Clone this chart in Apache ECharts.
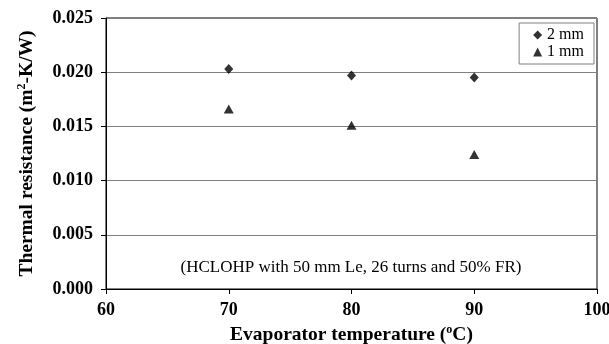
<!DOCTYPE html>
<html>
<head>
<meta charset="utf-8">
<script src="https://cdn.jsdelivr.net/npm/echarts@6/dist/echarts.min.js"></script>
<style>
html, body { margin: 0; padding: 0; background: #fff; }
#chart { width: 609px; height: 344px; }
</style>
</head>
<body>
<div id="chart"></div>
<script>
'use strict';

// values
var temps = [70, 80, 90];
var r2mm = [0.0203, 0.0197, 0.0195];
var r1mm = [0.0166, 0.0151, 0.0124];
var xTicks = [60, 70, 80, 90, 100];
var yTicks = [0, 0.005, 0.010, 0.015, 0.020, 0.025];
var note = '(HCLOHP with 50 mm Le, 26 turns and 50% FR)';

var serif = '"Liberation Serif", "DejaVu Serif", serif';

function pairs(xs, ys) {
    return xs.map(function(x, i) { return [x, ys[i]]; });
}

var titleRich = {
    t: { fontFamily: serif, fontWeight: 'bold', fontSize: 19.5, color: '#000', lineHeight: 22 },
    s: { fontFamily: serif, fontWeight: 'bold', fontSize: 12, color: '#000', verticalAlign: 'top', lineHeight: 16 }
};

var chart = echarts.init(document.getElementById('chart'));
chart.setOption({
    animation: false,
    backgroundColor: '#fff',
    grid: {
        left: 106, right: 12, top: 18, bottom: 55,
        outerBoundsMode: 'none',
        containLabel: false,
        show: true, borderColor: '#000', borderWidth: 1
    },
    legend: {
        orient: 'vertical',
        right: 15, top: 23,
        padding: [4, 10, 4, 14],
        itemGap: 1,
        itemWidth: 9, itemHeight: 9,
        borderColor: '#808080', borderWidth: 1,
        backgroundColor: '#fff',
        textStyle: { fontFamily: serif, fontSize: 16, color: '#000', padding: [0, 0, 0, 0] },
        data: [
            { name: '2 mm', icon: 'diamond' },
            { name: '1 mm', icon: 'triangle' }
        ]
    },
    xAxis: {
        type: 'value',
        min: xTicks[0], max: xTicks[xTicks.length - 1], interval: 10,
        name: '{t|Evaporator temperature (}{s|o}{t|C)}',
        nameLocation: 'middle', nameGap: 29,
        nameTextStyle: { rich: titleRich },
        axisLine: { lineStyle: { color: '#000', width: 1 } },
        axisTick: { inside: false, length: 5, lineStyle: { color: '#000' } },
        axisLabel: { fontFamily: serif, fontWeight: 'bold', fontSize: 18, color: '#000', margin: 12 },
        splitLine: { show: false }
    },
    yAxis: {
        type: 'value',
        min: yTicks[0], max: yTicks[yTicks.length - 1], interval: 0.005,
        name: '{t|Thermal resistance (m}{s|2}{t|-K/W)}',
        nameLocation: 'middle', nameGap: 68, nameRotate: 90,
        nameTextStyle: { rich: titleRich },
        axisLine: { show: true, lineStyle: { color: '#000', width: 1 } },
        axisTick: { show: true, inside: false, length: 5, lineStyle: { color: '#000' } },
        axisLabel: {
            fontFamily: serif, fontWeight: 'bold', fontSize: 18, color: '#000', margin: 13,
            formatter: function(v) { return v.toFixed(3); }
        },
        splitLine: { show: true, lineStyle: { color: '#808080', width: 1 } }
    },
    graphic: [{
        type: 'text',
        x: 351, y: 268,
        style: { text: note, font: '17px ' + serif, fill: '#000', align: 'center', verticalAlign: 'middle' }
    }],
    series: [
        {
            name: '2 mm', type: 'scatter',
            symbol: 'diamond', symbolSize: [9, 10],
            itemStyle: { color: '#000' },
            data: pairs(temps, r2mm)
        },
        {
            name: '1 mm', type: 'scatter',
            symbol: 'triangle', symbolSize: [10, 9],
            itemStyle: { color: '#000' },
            data: pairs(temps, r1mm)
        }
    ]
});
</script>
</body>
</html>
